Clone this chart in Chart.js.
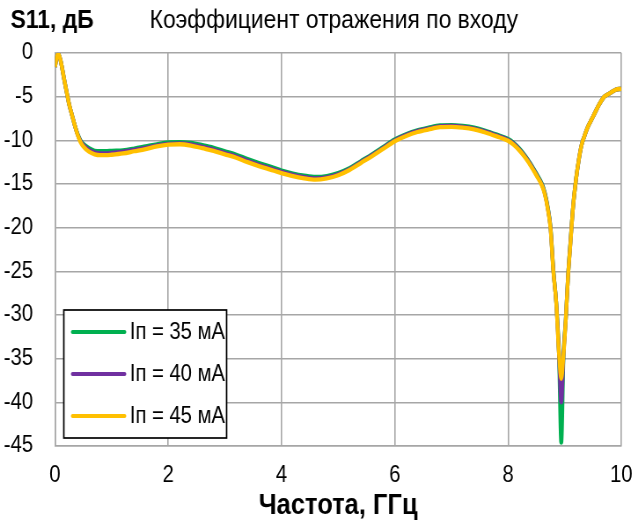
<!DOCTYPE html>
<html>
<head>
<meta charset="utf-8">
<script src="https://cdn.jsdelivr.net/npm/chart.js@4.4.1/dist/chart.umd.min.js"></script>
<style>
  html, body { margin: 0; padding: 0; background: #fff; }
  #wrap { width: 633px; height: 525px; position: relative; overflow: hidden; }
  /* condensed rendering: the canvas is drawn wide and squeezed horizontally */
  #c { position: absolute; left: 0; top: 0; transform-origin: 0 0; transform: scaleX(0.88); }
</style>
</head>
<body>
<div id="wrap"><canvas id="c" width="719" height="525"></canvas></div>
<script>
// Frequency grid, GHz
const freq = [0, 0.03, 0.06, 0.1, 0.15, 0.2, 0.25, 0.3, 0.35, 0.4, 0.45, 0.5, 0.6, 0.7, 0.8, 0.9, 1.0,
  1.2, 1.4, 1.6, 1.8, 2.0, 2.2, 2.4, 2.6, 2.8, 3.0, 3.2, 3.4, 3.6, 3.8, 4.0, 4.2, 4.4, 4.6, 4.8,
  5.0, 5.2, 5.4, 5.6, 5.8, 6.0, 6.2, 6.4, 6.6, 6.8, 7.0, 7.2, 7.4, 7.6, 7.8, 8.0, 8.1, 8.2, 8.3,
  8.4, 8.5, 8.6, 8.65, 8.7, 8.75, 8.8, 8.85, 8.9, 8.94, 8.98, 9.02, 9.06, 9.1, 9.15, 9.2, 9.25,
  9.3, 9.35, 9.4, 9.5, 9.6, 9.7, 9.8, 9.9, 10.0];

// S11, dB at bias current 35 mA
const s11_35 = [-1.6, -0.5, -0.1, -0.9, -2.6, -4.3, -5.9, -7.1, -8.3, -9.3, -10.0, -10.4, -10.9, -11.2, -11.25, -11.25, -11.2,
  -11.15, -10.95, -10.7, -10.45, -10.25, -10.2, -10.3, -10.55, -10.85, -11.25, -11.65, -12.15, -12.6, -13.0, -13.45, -13.8, -14.05, -14.2, -14.1,
  -13.75, -13.2, -12.4, -11.6, -10.75, -9.9, -9.3, -8.85, -8.55, -8.3, -8.25, -8.35, -8.55, -8.9, -9.35, -9.85, -10.3, -10.95, -11.75,
  -12.7, -13.8, -15.0, -16.0, -17.6, -19.9, -24.8, -28.5, -34.5, -44.6, -34.5, -30.5, -25.5, -21.8, -17.5, -14.5, -12.2,
  -10.5, -9.5, -8.6, -7.3, -6.0, -5.0, -4.6, -4.2, -4.1];

// S11, dB at bias current 40 mA
const s11_40 = [-1.6, -0.5, -0.1, -0.9, -2.6, -4.3, -5.9, -7.1, -8.3, -9.35, -10.1, -10.55, -11.1, -11.4, -11.5, -11.5, -11.45,
  -11.3, -11.1, -10.85, -10.6, -10.4, -10.35, -10.45, -10.75, -11.05, -11.45, -11.85, -12.35, -12.8, -13.2, -13.6, -13.95, -14.2, -14.35, -14.25,
  -13.9, -13.3, -12.5, -11.7, -10.85, -10.0, -9.4, -8.95, -8.65, -8.4, -8.35, -8.45, -8.65, -9.0, -9.45, -9.95, -10.4, -11.05, -11.85,
  -12.8, -13.9, -15.1, -16.1, -17.7, -20.0, -24.9, -28.5, -34.5, -40.0, -34.5, -30.5, -25.5, -21.9, -17.5, -14.5, -12.2,
  -10.5, -9.5, -8.6, -7.3, -6.0, -5.0, -4.6, -4.2, -4.1];

// S11, dB at bias current 45 mA
const s11_45 = [-1.6, -0.5, -0.1, -0.9, -2.6, -4.3, -5.9, -7.1, -8.3, -9.4, -10.2, -10.7, -11.3, -11.6, -11.7, -11.7, -11.65,
  -11.5, -11.25, -11.0, -10.7, -10.5, -10.45, -10.6, -10.9, -11.2, -11.6, -12.0, -12.5, -12.95, -13.35, -13.75, -14.1, -14.35, -14.5, -14.35,
  -14.0, -13.4, -12.6, -11.8, -10.95, -10.1, -9.5, -9.05, -8.75, -8.5, -8.45, -8.55, -8.75, -9.1, -9.55, -10.05, -10.5, -11.15, -11.95,
  -12.9, -14.0, -15.2, -16.2, -17.8, -20.1, -25.0, -28.5, -34.5, -37.3, -34.5, -30.5, -25.5, -22.0, -17.5, -14.5, -12.2,
  -10.5, -9.5, -8.6, -7.3, -6.0, -5.0, -4.6, -4.2, -4.1];

const seriesLabels = ['Iп = 35 мА', 'Iп = 40 мА', 'Iп = 45 мА'];
const seriesColors = ['#00b050', '#7030a0', '#ffc000'];
const seriesValues = [s11_35, s11_40, s11_45];

const xTicks = [0, 2, 4, 6, 8, 10];
const yTicks = [0, -5, -10, -15, -20, -25, -30, -35, -40, -45];

const FONT = "'Liberation Sans', Arial, sans-serif";

// Header texts and an in-plot legend box
const decorations = {
  id: 'decorations',
  afterDraw(chart) {
    const ctx = chart.ctx;
    const area = chart.chartArea;
    ctx.save();
    ctx.fillStyle = '#000';
    ctx.textBaseline = 'alphabetic';
    ctx.textAlign = 'left';
    ctx.font = 'bold 26px ' + FONT;
    ctx.fillText('S11, дБ', 12, 28);
    ctx.font = '26px ' + FONT;
    ctx.fillText('Коэффициент отражения по входу', 170, 28);

    // legend
    const bx = area.left + 10, by = area.top + 257, bw = 185, bh = 128;
    ctx.fillStyle = '#fff';
    ctx.fillRect(bx, by, bw, bh);
    ctx.strokeStyle = '#000';
    ctx.lineWidth = 1.7;
    ctx.strokeRect(bx, by, bw, bh);
    ctx.font = '23px ' + FONT;
    ctx.textBaseline = 'middle';
    chart.data.datasets.forEach((ds, i) => {
      const y = by + 22 + i * 42;
      ctx.strokeStyle = ds.borderColor;
      ctx.lineWidth = 4;
      ctx.lineCap = 'round';
      ctx.beginPath();
      ctx.moveTo(bx + 10, y);
      ctx.lineTo(bx + 69, y);
      ctx.stroke();
      ctx.fillStyle = '#000';
      ctx.fillText(ds.label, bx + 75, y + 1);
    });
    ctx.restore();
  }
};

new Chart(document.getElementById('c'), {
  type: 'line',
  data: {
    datasets: seriesValues.map((vals, i) => ({
      label: seriesLabels[i],
      data: freq.map((f, k) => ({ x: f, y: vals[k] })),
      borderColor: seriesColors[i],
      backgroundColor: seriesColors[i],
      borderWidth: 4.3,
      pointRadius: 0,
      cubicInterpolationMode: 'monotone',
      order: 3 - i,
      fill: false
    }))
  },
  options: {
    responsive: false,
    animation: false,
    events: [],
    layout: { padding: { left: 0, right: 13, top: 53, bottom: 0 } },
    plugins: { legend: { display: false }, tooltip: { enabled: false }, title: { display: false } },
    scales: {
      x: {
        type: 'linear',
        min: 0, max: 10,
        afterBuildTicks(scale) { scale.ticks = xTicks.map(v => ({ value: v })); },
        afterFit(scale) { scale.height = 79; scale.paddingLeft = 0; scale.paddingRight = 0; },
        grid: { color: '#a6a6a6', lineWidth: 1.6, drawTicks: false },
        border: { color: '#a6a6a6', width: 1.6 },
        ticks: { color: '#000', font: { family: FONT, size: 23 }, padding: 16, maxRotation: 0 },
        title: {
          display: true, text: 'Частота, ГГц', color: '#000',
          font: { family: FONT, size: 29, weight: 'bold' }, padding: { top: 0, bottom: 2 }
        }
      },
      y: {
        type: 'linear',
        min: -45, max: 0,
        afterBuildTicks(scale) { scale.ticks = yTicks.map(v => ({ value: v })); },
        afterFit(scale) { scale.width = 62.5; scale.paddingTop = 0; scale.paddingBottom = 0; },
        grid: { color: '#a6a6a6', lineWidth: 1.6, drawTicks: false },
        border: { color: '#a6a6a6', width: 1.6 },
        ticks: { color: '#000', font: { family: FONT, size: 23 }, padding: 25 }
      }
    }
  },
  plugins: [decorations]
});
</script>
</body>
</html>
